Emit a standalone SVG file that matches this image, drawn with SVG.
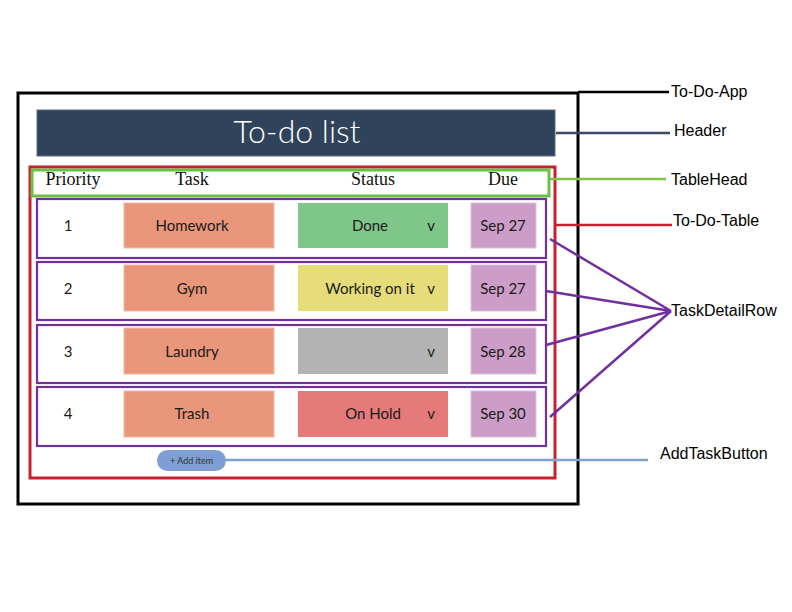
<svg xmlns="http://www.w3.org/2000/svg" width="792" height="612" viewBox="0 0 792 612">
<style>
.lbl{font-family:"Liberation Sans","Noto Sans",sans-serif;font-size:16px;fill:#000}
.th{font-family:"Liberation Serif","DejaVu Serif",serif;font-size:18px;fill:#111;text-anchor:middle}
.hw{font-family:Lato,"Open Sans",sans-serif;font-weight:400;font-size:15px;fill:#1a1a1a;text-anchor:middle}
.row{fill:#fff;stroke:#7030a0;stroke-width:2.2}
.task{fill:#e9967b;stroke:#f2b9a6;stroke-width:1}
.due{fill:#cc9dc8;stroke:#dcbfda;stroke-width:1}
.conn{fill:none;stroke-width:2.5}
</style>
<rect width="792" height="612" fill="#fff"/>
<g id="To-Do-App">
<rect x="18" y="93" width="560" height="411" fill="#fff" stroke="#000" stroke-width="3"/>
</g>
<g id="Header">
<rect x="37" y="110" width="518" height="46" fill="#2f435b" stroke="#5a6a80" stroke-width="1"/>
<text x="297" y="143" text-anchor="middle" font-family="Lato,'Open Sans',sans-serif" font-weight="300" font-size="32" fill="#fff">To-do list</text>
</g>
<g id="To-Do-Table">
<rect x="30" y="167" width="525" height="311" fill="none" stroke="#c8202f" stroke-width="3"/>
</g>
<g id="TableHead">
<rect x="32" y="170" width="517" height="26" fill="#fff" stroke="#6cbf45" stroke-width="3"/>
<text class="th" x="73" y="185">Priority</text>
<text class="th" x="192" y="185">Task</text>
<text class="th" x="373" y="185">Status</text>
<text class="th" x="503" y="185">Due</text>
</g>
<g id="TaskDetailRow1">
<rect class="row" x="37" y="199" width="509" height="59"/>
<text class="hw" x="68" y="231">1</text>
<rect class="task" x="124" y="203" width="150" height="45"/>
<text class="hw" x="192" y="231">Homework</text>
<rect x="298" y="203" width="150" height="45" fill="#7fc68a"/>
<text class="hw" x="370" y="231">Done</text>
<text class="hw" x="431" y="231">v</text>
<rect class="due" x="471" y="203" width="65" height="45"/>
<text class="hw" x="503" y="231">Sep 27</text>
</g>
<g id="TaskDetailRow2">
<rect class="row" x="37" y="262" width="509" height="58"/>
<text class="hw" x="68" y="294">2</text>
<rect class="task" x="124" y="265" width="150" height="46"/>
<text class="hw" x="192" y="294">Gym</text>
<rect x="298" y="265" width="150" height="46" fill="#e6dc7a"/>
<text class="hw" x="370" y="294">Working on it</text>
<text class="hw" x="431" y="294">v</text>
<rect class="due" x="471" y="265" width="65" height="46"/>
<text class="hw" x="503" y="294">Sep 27</text>
</g>
<g id="TaskDetailRow3">
<rect class="row" x="37" y="325" width="509" height="58"/>
<text class="hw" x="68" y="357">3</text>
<rect class="task" x="124" y="328" width="150" height="46"/>
<text class="hw" x="192" y="357">Laundry</text>
<rect x="298" y="328" width="150" height="46" fill="#b3b3b3"/>
<text class="hw" x="431" y="357">v</text>
<rect class="due" x="471" y="328" width="65" height="46"/>
<text class="hw" x="503" y="357">Sep 28</text>
</g>
<g id="TaskDetailRow4">
<rect class="row" x="37" y="387" width="509" height="59"/>
<text class="hw" x="68" y="419">4</text>
<rect class="task" x="124" y="391" width="150" height="46"/>
<text class="hw" x="192" y="419">Trash</text>
<rect x="298" y="391" width="150" height="46" fill="#e57a7a"/>
<text class="hw" x="373" y="419">On Hold</text>
<text class="hw" x="431" y="419">v</text>
<rect class="due" x="471" y="391" width="65" height="46"/>
<text class="hw" x="503" y="419">Sep 30</text>
</g>
<g id="AddTaskButton">
<rect x="157" y="450" width="69" height="21" rx="10.5" fill="#7f9fd4"/>
<text x="191.5" y="464" text-anchor="middle" font-family="Lato,'Open Sans',sans-serif" font-size="9" fill="#333">+ Add item</text>
</g>
<g id="connectors">
<path class="conn" stroke="#000" d="M578 92H669"/>
<path class="conn" stroke="#3d4a66" d="M556 133H670"/>
<path class="conn" stroke="#7dc242" d="M550 179H666"/>
<path class="conn" stroke="#c8202f" d="M556 225H672"/>
<path class="conn" stroke="#7030a0" stroke-width="2" d="M550 239L671 311M546 291L671 311M546 345L671 311M550 417L671 311"/>
<path class="conn" stroke="#7fa0d0" d="M225 460H648"/>
</g>
<g id="labels">
<text class="lbl" x="671" y="97">To-Do-App</text>
<text class="lbl" x="674" y="136">Header</text>
<text class="lbl" x="671" y="185">TableHead</text>
<text class="lbl" x="673" y="226">To-Do-Table</text>
<text class="lbl" x="671" y="316">TaskDetailRow</text>
<text class="lbl" x="660" y="459">AddTaskButton</text>
</g>
</svg>
